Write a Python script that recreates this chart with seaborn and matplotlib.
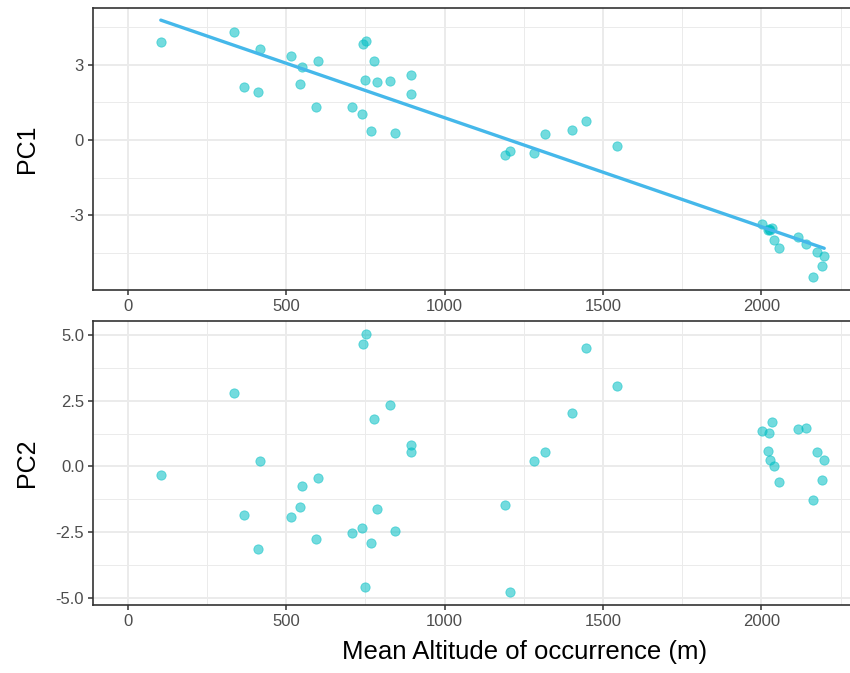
import matplotlib
matplotlib.use("Agg")
import matplotlib.pyplot as plt
from matplotlib.ticker import MultipleLocator, FixedLocator, FormatStrFormatter
import numpy as np
import pandas as pd
import seaborn as sns

# mean altitude of occurrence (m) and the two PCA scores per species
altitude = [104, 334, 366, 411, 417, 514, 542, 551, 595, 600, 709, 739, 742, 749,
            751, 767, 778, 786, 829, 844, 893, 895, 1189, 1206, 1283, 1318, 1402,
            1445, 1543, 2003, 2021, 2025, 2027, 2034, 2038, 2055, 2116, 2142, 2163,
            2176, 2192, 2198]
pc1 = [3.89, 4.31, 2.09, 1.89, 3.60, 3.33, 2.23, 2.91, 1.32, 3.12, 1.29, 1.04, 3.80,
       2.39, 3.92, 0.36, 3.12, 2.32, 2.36, 0.27, 2.60, 1.84, -0.60, -0.44, -0.51,
       0.23, 0.39, 0.76, -0.24, -3.37, -3.60, -3.56, -3.58, -3.52, -4.00, -4.29,
       -3.87, -4.13, -5.47, -4.47, -5.04, -4.61]
pc2 = [-0.34, 2.80, -1.84, -3.14, 0.20, -1.93, -1.53, -0.76, -2.75, -0.43, -2.54,
       -2.34, 4.65, -4.60, 5.04, -2.90, 1.82, -1.62, 2.34, -2.46, 0.80, 0.54, -1.48,
       -4.78, 0.20, 0.54, 2.03, 4.51, 3.06, 1.34, 0.59, 1.28, 0.23, 1.70, 0.01,
       -0.58, 1.43, 1.47, -1.29, 0.53, -0.52, 0.23]
x_ticks = [0, 500, 1000, 1500, 2000]

df = pd.DataFrame({'altitude': altitude, 'PC1': pc1, 'PC2': pc2})

sns.set_style('white')
plt.rcParams['font.family'] = ['Liberation Sans', 'DejaVu Sans']

point_col = '#00BFC4'
line_col = '#45B8EA'
grid_col = '#EBEBEB'
frame_col = '#333333'

fig = plt.figure(figsize=(8.5, 6.73), dpi=100)
# panel runs past the right edge, as in the cropped original
ax1 = fig.add_axes([93 / 850, 1 - 290 / 673, 863 / 850, 282 / 673])
ax2 = fig.add_axes([93 / 850, 1 - 605 / 673, 863 / 850, 284 / 673])

sns.scatterplot(data=df, x='altitude', y='PC1', color=point_col, alpha=0.55,
                s=45, edgecolor=point_col, linewidth=0.6, ax=ax1, zorder=3)
sns.regplot(data=df, x='altitude', y='PC1', scatter=False, ci=None,
            color=line_col, line_kws={'linewidth': 2.4, 'zorder': 4}, ax=ax1)
sns.scatterplot(data=df, x='altitude', y='PC2', color=point_col, alpha=0.55,
                s=45, edgecolor=point_col, linewidth=0.6, ax=ax2, zorder=3)

ax1.set_ylim(-5.98, 5.25)
ax2.set_ylim(-5.27, 5.53)
ax1.yaxis.set_major_locator(MultipleLocator(3))
ax1.yaxis.set_minor_locator(MultipleLocator(1.5))
ax1.yaxis.set_major_formatter(FormatStrFormatter('%d'))
ax2.yaxis.set_major_locator(MultipleLocator(2.5))
ax2.yaxis.set_minor_locator(MultipleLocator(1.25))
ax2.yaxis.set_major_formatter(FormatStrFormatter('%.1f'))

for ax in (ax1, ax2):
    ax.set_xlim(-110, 2614)
    ax.xaxis.set_major_locator(FixedLocator(x_ticks))
    ax.xaxis.set_minor_locator(FixedLocator([250, 750, 1250, 1750, 2250]))
    ax.grid(which='major', color=grid_col, linewidth=1.4, zorder=0)
    ax.grid(which='minor', color=grid_col, linewidth=0.7, zorder=0)
    ax.set_axisbelow(True)
    for sp in ax.spines.values():
        sp.set_visible(True)
        sp.set_color(frame_col)
        sp.set_linewidth(1.2)
    ax.tick_params(which='major', length=3.5, width=1.1, color=frame_col,
                   labelsize=12, labelcolor='#4D4D4D', pad=3, bottom=True, left=True)
    ax.tick_params(which='minor', length=0)
    ax.set_xlabel('')
    ax.yaxis.set_label_coords(-0.062, 0.5)

ax1.set_ylabel('PC1', fontsize=18, color='black')
ax2.set_ylabel('PC2', fontsize=18, color='black')
ax2.set_xlabel('Mean Altitude of occurrence (m)', fontsize=18.5, color='black',
               labelpad=8)

fig.savefig('out.png', dpi=100)
